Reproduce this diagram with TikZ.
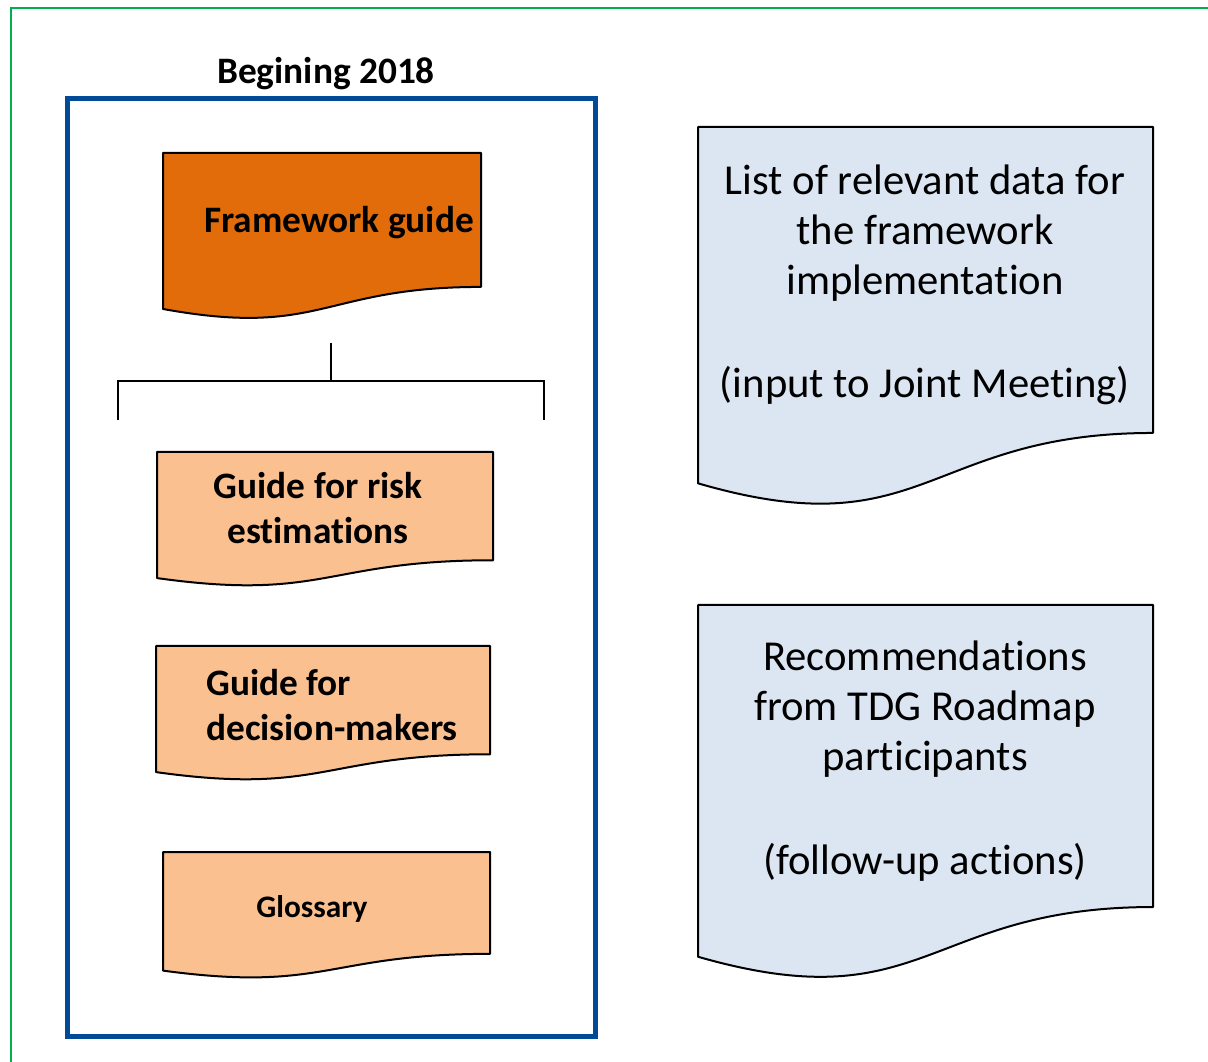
\documentclass[tikz,border=0pt]{standalone}
\usepackage{fontspec}
\setmainfont{Carlito}[Ligatures=NoCommon]
\definecolor{fwor}{RGB}{227,108,10}
\definecolor{ltor}{RGB}{250,192,144}
\definecolor{ltbl}{RGB}{220,230,242}
\definecolor{frbl}{RGB}{0,74,152}
\definecolor{frgr}{RGB}{0,176,80}
% document shape: style, x, y, width, height
\newcommand{\docbox}[5]{\draw[#1] (#2,#3) -- ({#2+#4},#3) -- ({#2+#4},{#3+0.802*#5}) .. controls ({#2+0.5*#4},{#3+0.802*#5}) and ({#2+0.5*#4},{#3+1.1075*#5}) .. (#2,{#3+0.934*#5}) -- cycle;}
\begin{document}
\begin{tikzpicture}[x=0.75pt, y=-0.75pt, doc/.style={draw=black, line width=1.5pt, line join=round}, bt/.style={font=\bfseries\fontsize{28}{33.75}\selectfont, inner sep=0pt}, rt/.style={font=\fontsize{32}{37.5}\selectfont, align=center, inner sep=0pt}]
	\clip (0,0) rectangle (1208,1062);
	\draw[frgr, line width=1.5pt] (11,1100) -- (11,8) -- (1250,8);
	\node[bt] (yr) at (326,74) {Begining 2018};
	\draw[frbl, line width=3.75pt] (67,99) rectangle (595,1036);
	% documents
	\docbox{doc, fill=fwor}{163}{153}{318}{167}
	\docbox{doc, fill=ltor}{157}{452}{336}{135}
	\docbox{doc, fill=ltor}{156}{646}{334}{135}
	\docbox{doc, fill=ltor}{163}{852}{327}{127}
	\docbox{doc, fill=ltbl}{698}{127}{455}{381.5}
	\docbox{doc, fill=ltbl}{698}{605}{455}{376.6}
	\node[bt] (fw) at (339,223) {Framework guide};
	\node[bt, align=center] (risk) at (318,508) {Guide for risk\\estimations};
	\node[bt, align=left, anchor=west] (dec) at (206,705) {Guide for\\decision-makers};
	\node[bt, font=\bfseries\fontsize{23.5}{28}\selectfont] (gl) at (312,909) {Glossary};
	\node[rt] (data) at (925,285) {List of relevant data for\\the framework\\implementation\\[40pt](input to Joint Meeting)};
	\node[rt] (rec) at (925,761) {Recommendations\\from TDG Roadmap\\participants\\[40pt](follow-up actions)};
	% bracket
	\coordinate (bt) at (331,343);
	\coordinate (bm) at (331,381);
	\coordinate (bl) at (118,420);
	\coordinate (brr) at (544,420);
	\draw[line width=1.5pt] (bt) -- (bm);
	\draw[line width=1.5pt] (bl) |- (bm) -| (brr);
\end{tikzpicture}
\end{document}
